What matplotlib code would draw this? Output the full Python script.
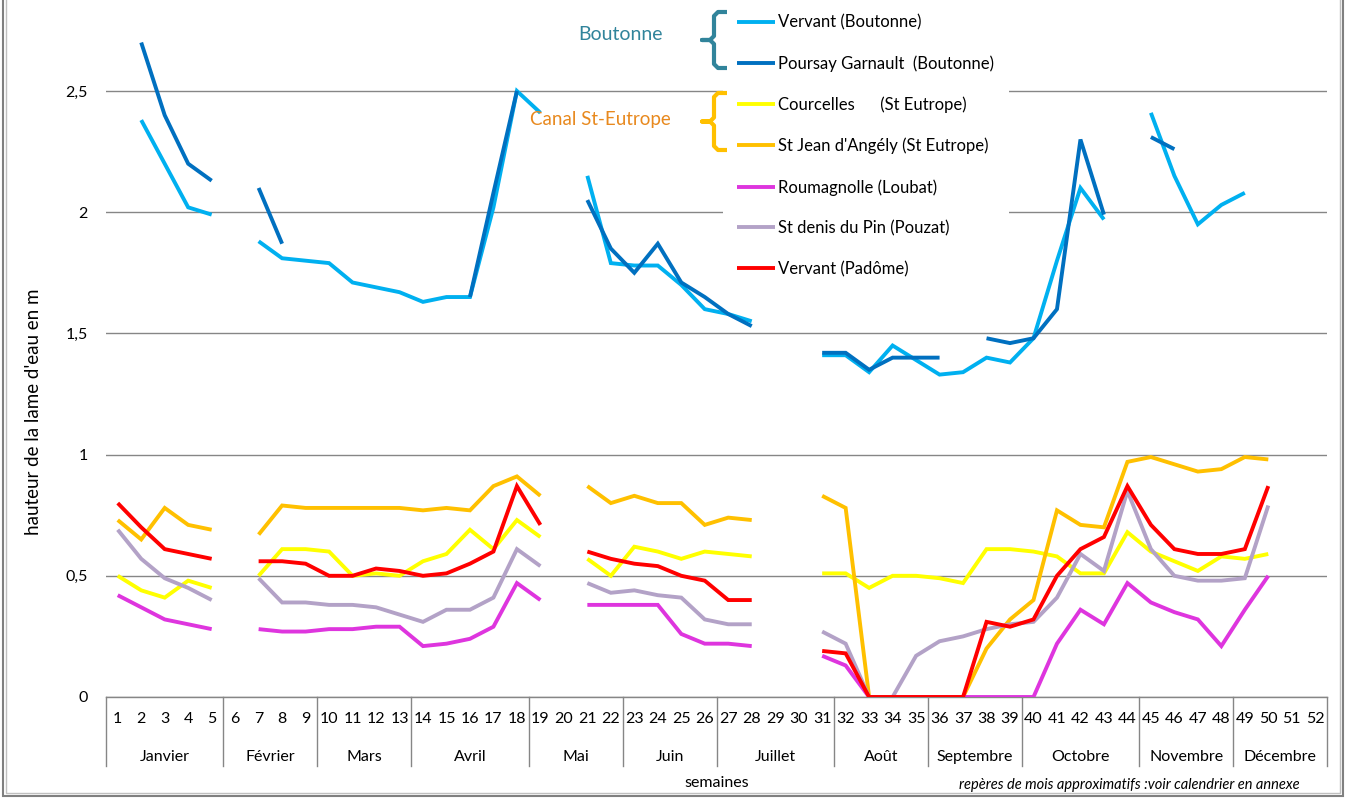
import numpy as np
import matplotlib
matplotlib.use("Agg")
import matplotlib.pyplot as plt
from matplotlib.transforms import blended_transform_factory
from matplotlib.patches import Rectangle

plt.rcParams['font.family'] = ['Lato', 'DejaVu Sans']

N = None
weeks = list(range(1, 53))
week_labels = [str(w) for w in weeks]
months = ['Janvier', 'Février', 'Mars', 'Avril', 'Mai', 'Juin', 'Juillet',
          'Août', 'Septembre', 'Octobre', 'Novembre', 'Décembre']
month_weeks = [5, 4, 4, 5, 4, 4, 5, 4, 4, 5, 4, 4]
yticks = [0, 0.5, 1, 1.5, 2, 2.5]
ytick_labels = ['0', '0,5', '1', '1,5', '2', '2,5']

#                    1     2     3     4     5     6     7     8     9     10    11    12    13
vervant_boutonne = [N,    2.38, 2.20, 2.02, 1.99, N,    1.88, 1.81, 1.80, 1.79, 1.71, 1.69, 1.67,
                    1.63, 1.65, 1.65, 2.02, 2.50, 2.41, N,    2.15, 1.79, 1.78, 1.78, 1.70, 1.60,
                    1.58, 1.55, N,    N,    1.41, 1.41, 1.34, 1.45, 1.39, 1.33, 1.34, 1.40, 1.38,
                    1.48, 1.80, 2.10, 1.97, N,    2.41, 2.15, 1.95, 2.03, 2.08, N,    N,    N]
poursay_garnault = [N,    2.70, 2.40, 2.20, 2.13, N,    2.10, 1.87, N,    N,    N,    N,    N,
                    N,    N,    1.65, 2.08, 2.50, N,    N,    2.05, 1.85, 1.75, 1.87, 1.71, 1.65,
                    1.58, 1.53, N,    N,    1.42, 1.42, 1.35, 1.40, 1.40, 1.40, N,    1.48, 1.46,
                    1.48, 1.60, 2.30, 1.99, N,    2.31, 2.26, N,    N,    N,    N,    N,    N]
courcelles =       [0.50, 0.44, 0.41, 0.48, 0.45, N,    0.50, 0.61, 0.61, 0.60, 0.50, 0.51, 0.50,
                    0.56, 0.59, 0.69, 0.61, 0.73, 0.66, N,    0.57, 0.50, 0.62, 0.60, 0.57, 0.60,
                    0.59, 0.58, N,    N,    0.51, 0.51, 0.45, 0.50, 0.50, 0.49, 0.47, 0.61, 0.61,
                    0.60, 0.58, 0.51, 0.51, 0.68, 0.60, 0.56, 0.52, 0.58, 0.57, 0.59, N,    N]
st_jean_angely =   [0.73, 0.65, 0.78, 0.71, 0.69, N,    0.67, 0.79, 0.78, 0.78, 0.78, 0.78, 0.78,
                    0.77, 0.78, 0.77, 0.87, 0.91, 0.83, N,    0.87, 0.80, 0.83, 0.80, 0.80, 0.71,
                    0.74, 0.73, N,    N,    0.83, 0.78, 0.00, 0.00, 0.00, 0.00, 0.00, 0.20, 0.32,
                    0.40, 0.77, 0.71, 0.70, 0.97, 0.99, 0.96, 0.93, 0.94, 0.99, 0.98, N,    N]
roumagnolle =      [0.42, 0.37, 0.32, 0.30, 0.28, N,    0.28, 0.27, 0.27, 0.28, 0.28, 0.29, 0.29,
                    0.21, 0.22, 0.24, 0.29, 0.47, 0.40, N,    0.38, 0.38, 0.38, 0.38, 0.26, 0.22,
                    0.22, 0.21, N,    N,    0.17, 0.13, 0.00, 0.00, 0.00, 0.00, 0.00, 0.00, 0.00,
                    0.00, 0.22, 0.36, 0.30, 0.47, 0.39, 0.35, 0.32, 0.21, 0.36, 0.50, N,    N]
st_denis_du_pin =  [0.69, 0.57, 0.49, 0.45, 0.40, N,    0.49, 0.39, 0.39, 0.38, 0.38, 0.37, 0.34,
                    0.31, 0.36, 0.36, 0.41, 0.61, 0.54, N,    0.47, 0.43, 0.44, 0.42, 0.41, 0.32,
                    0.30, 0.30, N,    N,    0.27, 0.22, 0.00, 0.00, 0.17, 0.23, 0.25, 0.28, 0.30,
                    0.31, 0.41, 0.59, 0.52, 0.85, 0.61, 0.50, 0.48, 0.48, 0.49, 0.79, N,    N]
vervant_padome =   [0.80, 0.70, 0.61, 0.59, 0.57, N,    0.56, 0.56, 0.55, 0.50, 0.50, 0.53, 0.52,
                    0.50, 0.51, 0.55, 0.60, 0.87, 0.71, N,    0.60, 0.57, 0.55, 0.54, 0.50, 0.48,
                    0.40, 0.40, N,    N,    0.19, 0.18, 0.00, 0.00, 0.00, 0.00, 0.00, 0.31, 0.29,
                    0.32, 0.50, 0.61, 0.66, 0.87, 0.71, 0.61, 0.59, 0.59, 0.61, 0.87, N,    N]

series_names = ['Vervant (Boutonne)', 'Poursay Garnault  (Boutonne)',
                'Courcelles      (St Eutrope)', "St Jean d'Angély (St Eutrope)",
                'Roumagnolle (Loubat)', 'St denis du Pin (Pouzat)', 'Vervant (Padôme)']
series_values = [vervant_boutonne, poursay_garnault, courcelles, st_jean_angely,
                 roumagnolle, st_denis_du_pin, vervant_padome]
series_colors = ['#00B0F0', '#0070C0', '#FFFF00', '#FFC000', '#DE35DE', '#B3A2C7', '#FF0000']

GRID = '#868686'
W, H = 1348, 798
fig = plt.figure(figsize=(W / 100, H / 100), dpi=100)
ax_h = 2.85 * 242.4
ax = fig.add_axes([106 / W, (H - 697) / H, 1221 / W, ax_h / H])

handles = []
for name, vals, col in zip(series_names, series_values, series_colors):
    y = np.array([np.nan if v is None else v for v in vals], dtype=float)
    ln, = ax.plot(weeks, y, color=col, lw=2.8, label=name,
                  solid_joinstyle='miter', solid_capstyle='butt', zorder=3)
    handles.append(ln)

ax.set_xlim(0.5, 52.5)
ax.set_ylim(0, 2.85)
ax.set_yticks(yticks)
ax.set_yticklabels(ytick_labels)
ax.yaxis.grid(True, color=GRID, lw=1)
ax.set_axisbelow(True)
for s in ['left', 'right', 'top']:
    ax.spines[s].set_visible(False)
ax.spines['bottom'].set_color(GRID)
ax.spines['bottom'].set_linewidth(1)
ax.tick_params(axis='y', length=0, pad=13, labelsize=11.5)
ax.set_xticks(weeks)
ax.set_xticklabels(week_labels)
ax.tick_params(axis='x', length=0, pad=11, labelsize=11.5)

# multi-level category axis: month separators and labels
tr = blended_transform_factory(ax.transData, ax.transAxes)
bounds = np.concatenate([[0], np.cumsum(month_weeks)]) + 0.5
sep_bottom = -(766 - 697) / ax_h
for b in bounds:
    ax.plot([b, b], [0, sep_bottom], color=GRID, lw=1, transform=tr, clip_on=False)
for m, a, b in zip(months, bounds[:-1], bounds[1:]):
    ax.text((a + b) / 2, -(757 - 697) / ax_h, m, transform=tr, ha='center', va='center',
            fontsize=11.5)
ax.text(0.5, -(783 - 697) / ax_h, 'semaines', transform=ax.transAxes, ha='center',
        va='center', fontsize=11.5)
ax.text((1300 - 106) / 1221, -(785 - 697) / ax_h,
        'repères de mois approximatifs :voir calendrier en annexe',
        transform=ax.transAxes, ha='right', va='center', fontsize=10.5, style='italic')

ax.set_ylabel("hauteur de la lame d'eau en m", fontsize=13.5)
ax.yaxis.set_label_coords((42 - 106) / 1221, (697 - 412) / ax_h)

leg = fig.legend(handles=handles, loc='upper left', bbox_to_anchor=(723 / W, 1.0),
                 fontsize=12, frameon=True, fancybox=False, framealpha=1,
                 edgecolor='none', facecolor='white', borderpad=0.87, labelspacing=1.48,
                 handlelength=2.28, handletextpad=0.18, borderaxespad=0)
leg.set_zorder(5)

# overlay for braces, group labels and chart border
ov = fig.add_axes([0, 0, 1, 1], zorder=10)
ov.set_xlim(0, W)
ov.set_ylim(H, 0)
ov.axis('off')
ov.patch.set_alpha(0)

def brace(y0, y1, color):
    ym = (y0 + y1) / 2
    xs = [727, 718, 714, 714, 710, 702, 710, 714, 714, 718, 727]
    ys = [y0, y0, y0 + 4, ym - 4, ym, ym, ym, ym + 4, y1 - 4, y1, y1]
    ov.plot(xs, ys, color=color, lw=3, solid_joinstyle='round', solid_capstyle='butt')

brace(12, 68, '#31849B')
brace(93, 150, '#FFC000')
ov.text(620, 35, 'Boutonne', color='#31849B', fontsize=14, ha='center', va='center')
ov.text(600, 119, 'Canal St-Eutrope', color='#E8891E', fontsize=13.5, ha='center', va='center')

ov.add_patch(Rectangle((3, -10), 1340, 806, fill=False, edgecolor='#808080', lw=1.5))
ov.add_patch(Rectangle((6, -10), 1334, 803, fill=False, edgecolor='#C0C0C0', lw=1))

fig.savefig('out.png', dpi=100)
